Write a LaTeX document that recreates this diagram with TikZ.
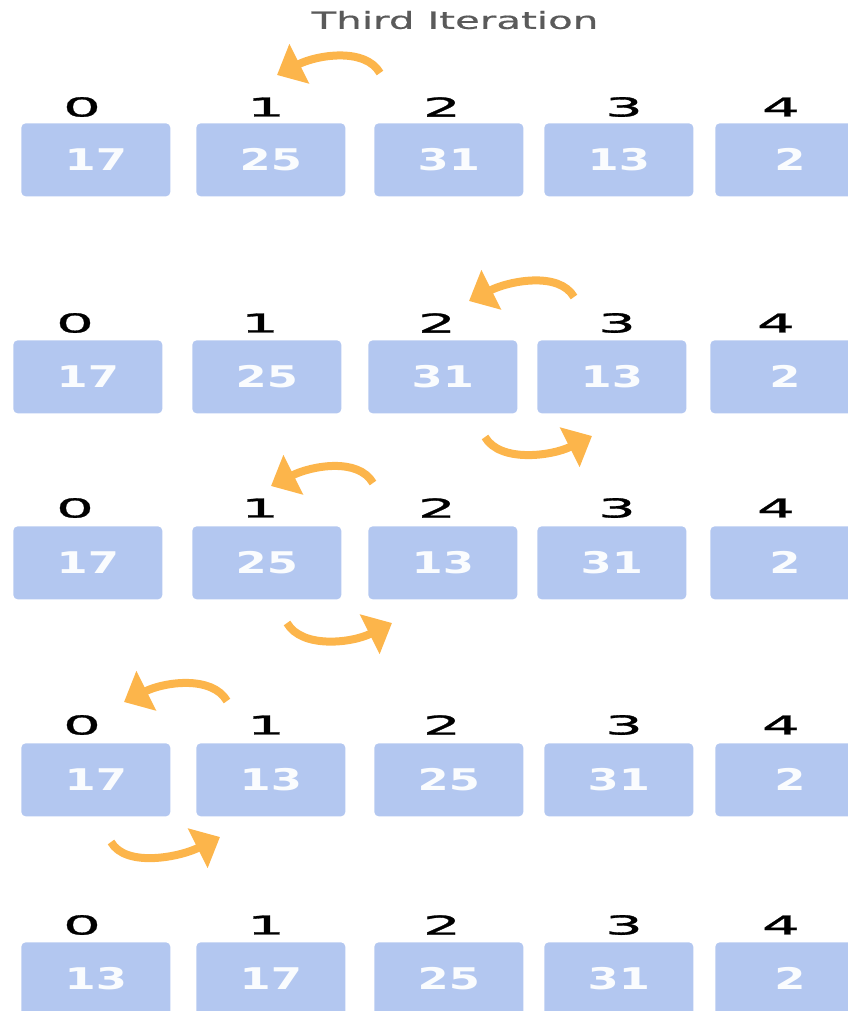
\documentclass[tikz,border=0pt]{standalone}
\usepackage{fontspec}
\newfontfamily\titlefont[FakeStretch=1.7, FakeBold=0.6]{DejaVu Sans}
\newfontfamily\idxfont[FakeStretch=2.3, FakeBold=1.2]{DejaVu Sans}
\newfontfamily\valfont[FakeStretch=1.5]{DejaVu Sans}
\usetikzlibrary{arrows.meta, positioning}

\definecolor{cellblue}{HTML}{B3C7F0}
\definecolor{swaporange}{HTML}{FCB54B}
\definecolor{titlegray}{HTML}{5A5A5A}

\tikzset{
    cell/.style={fill=cellblue, rounded corners=2.5pt, anchor=north west,
        minimum width=2.98cm, minimum height=1.46cm, inner sep=0pt,
        text=white!94!cellblue, font=\valfont\bfseries\fontsize{17}{17}\selectfont},
    idx/.style={inner sep=0pt, font=\idxfont\fontsize{14.8}{15}\selectfont},
    swap/.style={draw=swaporange, line width=0.16cm,
        -{Triangle[length=0.5cm,width=0.86cm]}}
}

\begin{document}
\begin{tikzpicture}[x=0.02cm, y=-0.02cm]
\useasboundingbox (0,0) rectangle (848,1011);
% x positions: boxes and index labels, two layouts
\def\boxA{{21,196,374,544,715}}
\def\boxB{{13,192,368,537,710}}
\def\idxA{{82,266,442,624,781}}
\def\idxB{{75,260,437,617,776}}

\node[text=titlegray, font=\titlefont\fontsize{13.5}{14}\selectfont] (title) at (455,20) {Third Iteration};

\foreach \r/\t/\l/\bx/\lx/\vals in {
    1/123/107/\boxA/\idxA/{17,25,31,13,2},
    2/340/323/\boxB/\idxB/{17,25,31,13,2},
    3/526/508/\boxB/\idxB/{17,25,13,31,2},
    4/743/725/\boxA/\idxA/{17,13,25,31,2},
    5/942/925/\boxA/\idxA/{13,17,25,31,2}} {
    \foreach \v [count=\c from 0] in \vals {
        \pgfmathsetmacro\xl{\bx[\c]}
        \pgfmathsetmacro\xi{\lx[\c]}
        \node[cell] (cell\r\c) at (\xl,\t) {\v};
        \node[idx] (idx\r\c) at (\xi,\l) {\c};
    }
}

% swap arrows
\coordinate (s1a) at (380,73);  \coordinate (s1b) at (277,75);
\coordinate (s2a) at (574,297); \coordinate (s2b) at (469,301);
\coordinate (s3a) at (373,483); \coordinate (s3b) at (271,486);
\coordinate (s4a) at (227,701); \coordinate (s4b) at (124,702);
\coordinate (t2a) at (485,437); \coordinate (t2b) at (592,436);
\coordinate (t3a) at (287,623); \coordinate (t3b) at (392,623);
\coordinate (t4a) at (111,842); \coordinate (t4b) at (220,837);

\draw[swap] (s1a) .. controls (365,47) and (317,55) .. (s1b);
\draw[swap] (s2a) .. controls (559,271) and (509,281) .. (s2b);
\draw[swap] (s3a) .. controls (358,457) and (311,466) .. (s3b);
\draw[swap] (s4a) .. controls (212,675) and (164,682) .. (s4b);
\draw[swap] (t2a) .. controls (500,463) and (552,456) .. (t2b);
\draw[swap] (t3a) .. controls (302,649) and (352,643) .. (t3b);
\draw[swap] (t4a) .. controls (126,868) and (180,857) .. (t4b);
\end{tikzpicture}
\end{document}
